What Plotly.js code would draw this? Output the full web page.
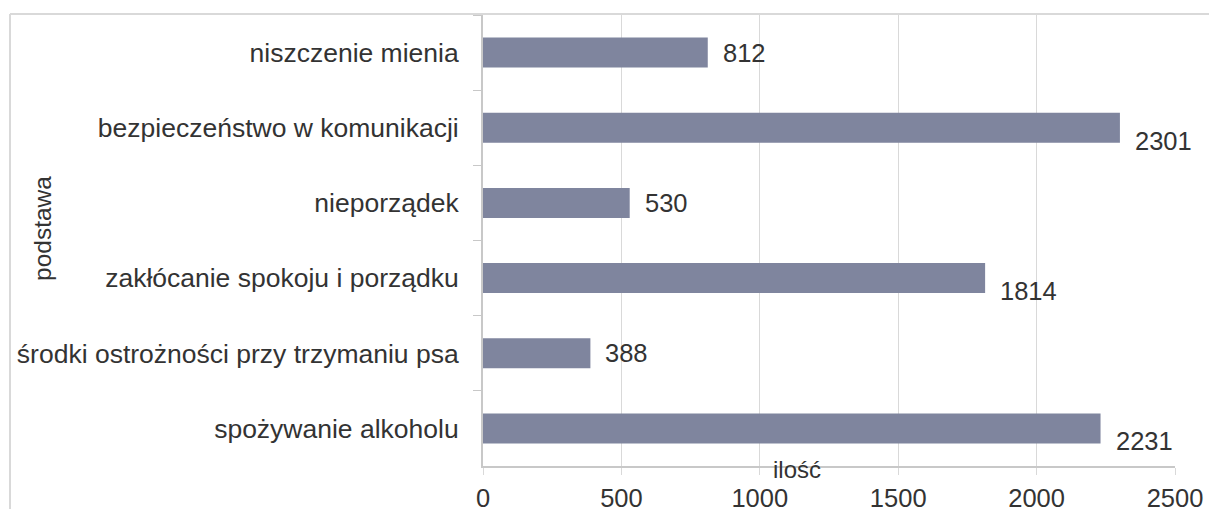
<!DOCTYPE html>
<html>
<head>
<meta charset="utf-8">
<script src="https://cdn.plot.ly/plotly-3.0.1.min.js"></script>
<style>html,body{margin:0;padding:0;background:#fff;}#chart{width:1209px;height:509px;}</style>
</head>
<body>
<div id="chart"></div>
<script>
// Data (top to bottom as shown)
const categories = [
  "niszczenie mienia",
  "bezpieczeństwo w komunikacji",
  "nieporządek",
  "zakłócanie spokoju i porządku",
  "środki ostrożności przy trzymaniu psa",
  "spożywanie alkoholu"
];
const values = [812, 2301, 530, 1814, 388, 2231];
const xTickValues = [0, 500, 1000, 1500, 2000, 2500];
const xTickLabels = ["0", "500", "1000", "1500", "2000", "2500"];
const xTitle = "ilość";
const yTitle = "podstawa";

const FONT = "Liberation Sans, Arial, sans-serif";
const TEXT = "#333333";

const trace = {
  type: "bar",
  orientation: "h",
  y: categories,
  x: values,
  marker: {color: "#7f859e"},
  hoverinfo: "skip"
};

const annotations = values.map((v, i) => ({
  x: v, y: categories[i], xref: "x", yref: "y",
  text: String(v), showarrow: false,
  xanchor: "left", yanchor: "middle",
  xshift: 13, yshift: v > 1500 ? -13 : 0,
  font: {family: FONT, size: 25.5, color: TEXT}
}));

annotations.push({
  text: xTitle, xref: "paper", yref: "paper",
  x: (797 - 483) / 692, y: (466 - 469) / 451,
  xanchor: "center", yanchor: "middle", showarrow: false,
  font: {family: FONT, size: 24, color: TEXT}
});
annotations.push({
  text: yTitle, xref: "paper", yref: "paper", textangle: -90,
  x: (42 - 483) / 692, y: (466 - 229) / 451,
  xanchor: "center", yanchor: "middle", showarrow: false,
  font: {family: FONT, size: 24.5, color: TEXT}
});

const layout = {
  width: 1209, height: 509,
  margin: {l: 483, r: 34, t: 15, b: 43, pad: 0},
  paper_bgcolor: "#ffffff", plot_bgcolor: "#ffffff",
  showlegend: false,
  bargap: 0.6,
  font: {family: FONT, color: TEXT},
  xaxis: {
    range: [0, 2500],
    tickvals: xTickValues, ticktext: xTickLabels,
    showgrid: true, gridcolor: "#d9d9d9", gridwidth: 1,
    zeroline: false,
    showline: true, linecolor: "#c8c8c8", linewidth: 2,
    ticks: "outside", ticklen: 7, tickcolor: "#d9d9d9", tickwidth: 1,
    ticklabelstandoff: 1,
    tickfont: {family: FONT, size: 25.5, color: TEXT},
    fixedrange: true
  },
  yaxis: {
    type: "category",
    autorange: "reversed",
    showgrid: false, zeroline: false,
    showline: true, linecolor: "#c8c8c8", linewidth: 2,
    ticks: "outside", tickson: "boundaries", ticklen: 8, tickcolor: "#c8c8c8", tickwidth: 1,
    ticklabelstandoff: 17,
    tickfont: {family: FONT, size: 26.5, color: TEXT},
    fixedrange: true
  },
  shapes: [
    {type: "line", xref: "paper", yref: "paper",
     x0: (10 - 483) / 692, x1: 1.1, y0: (466 - 14) / 451, y1: (466 - 14) / 451,
     line: {color: "#d9d9d9", width: 2}},
    {type: "line", xref: "paper", yref: "paper",
     x0: (10 - 483) / 692, x1: (10 - 483) / 692, y0: (466 - 14) / 451, y1: -0.2,
     line: {color: "#d9d9d9", width: 2}}
  ],
  annotations: annotations
};

Plotly.newPlot("chart", [trace], layout, {staticPlot: true, displayModeBar: false});
</script>
</body>
</html>
